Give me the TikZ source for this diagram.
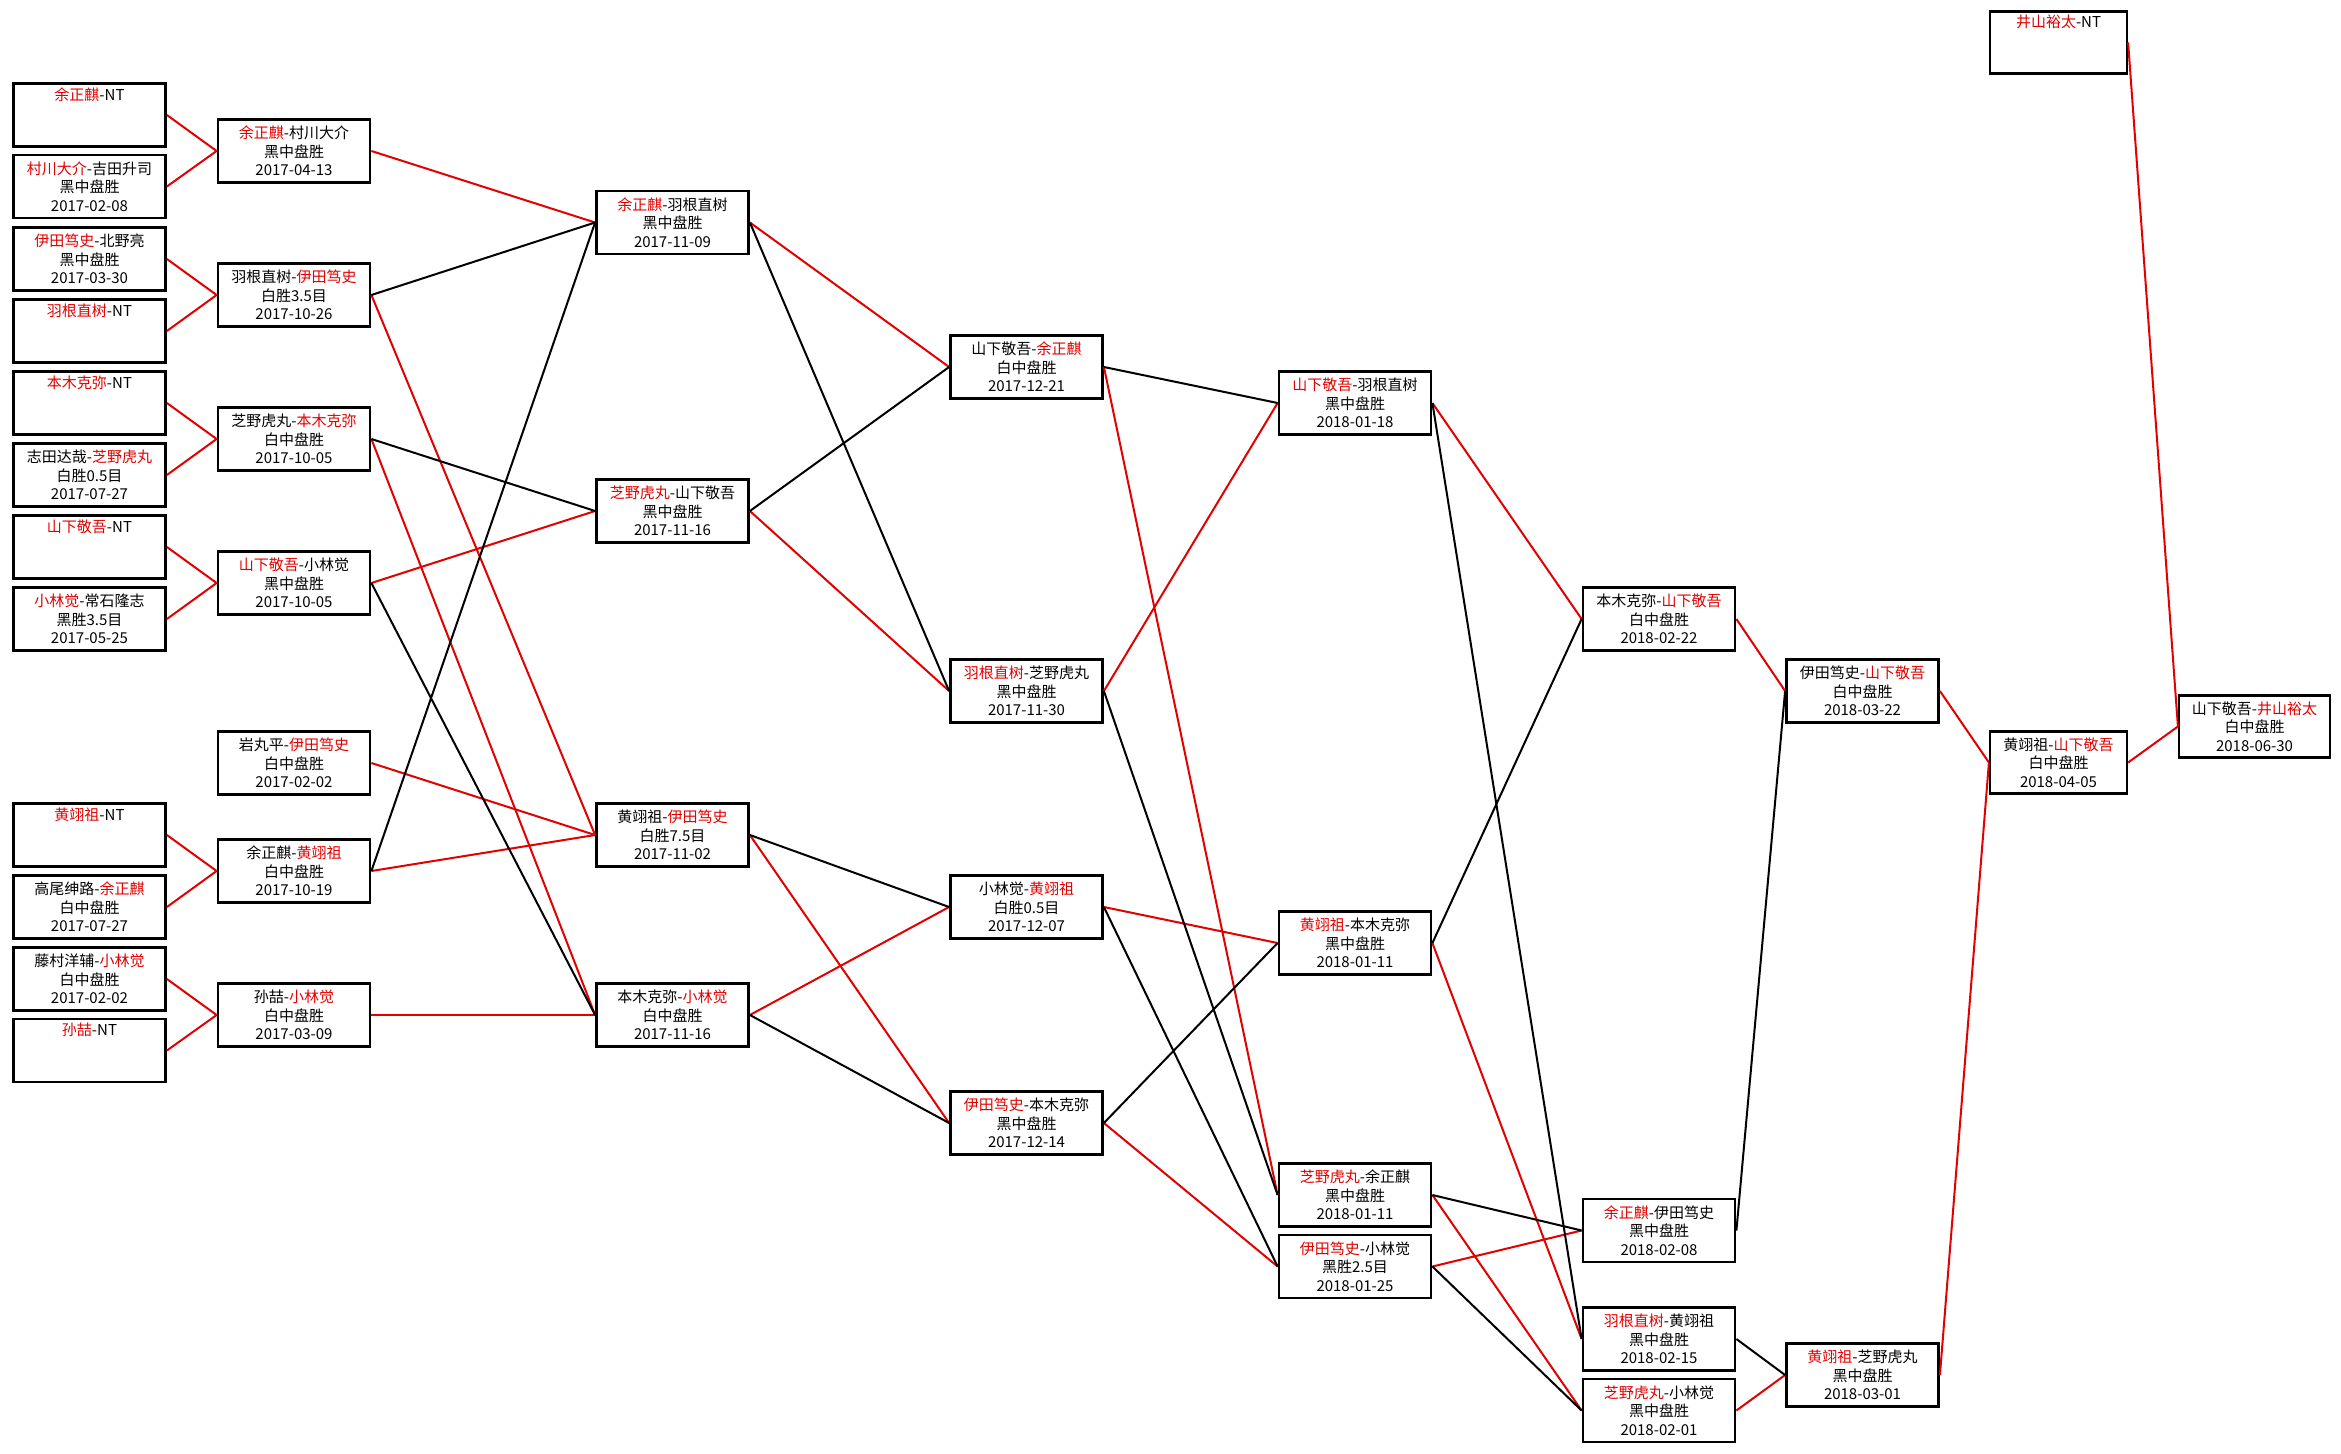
\documentclass[tikz,border=0pt]{standalone}
\usepackage{fontspec}
\setmainfont{Noto Sans CJK SC}
\definecolor{wred}{RGB}{226,0,0}
\newcommand{\rn}[1]{\textcolor{wred}{#1}}
\begin{document}
\begin{tikzpicture}[x=1pt,y=-1pt,
  gbox/.style={draw=black, line width=2.8pt, minimum width=152pt, minimum height=63pt,
    inner sep=0pt, align=center, font=\fontsize{15}{18.5}\selectfont},
  sbox/.style={gbox, line width=2.2pt, minimum width=137pt, minimum height=62pt},
  rl/.style={draw=wred, line width=2pt},
  kl/.style={draw=black, line width=2pt}]
\clip (0,0) rectangle (2341,1453);
\fill[white] (0,0) rectangle (2341,1453);
% column 1
\node[gbox] (c1a) at (89.5,115)  {\rn{余正麒}-NT\\\strut\\\strut};
\node[gbox] (c1b) at (89.5,186.5){\rn{村川大介}-吉田升司\\黑中盘胜\\2017-02-08};
\node[gbox] (c1c) at (89.5,259)  {\rn{伊田笃史}-北野亮\\黑中盘胜\\2017-03-30};
\node[gbox] (c1d) at (89.5,331)  {\rn{羽根直树}-NT\\\strut\\\strut};
\node[gbox] (c1e) at (89.5,403)  {\rn{本木克弥}-NT\\\strut\\\strut};
\node[gbox] (c1f) at (89.5,475)  {志田达哉-\rn{芝野虎丸}\\白胜0.5目\\2017-07-27};
\node[gbox] (c1g) at (89.5,547)  {\rn{山下敬吾}-NT\\\strut\\\strut};
\node[gbox] (c1h) at (89.5,619)  {\rn{小林觉}-常石隆志\\黑胜3.5目\\2017-05-25};
\node[gbox] (c1i) at (89.5,835)  {\rn{黄翊祖}-NT\\\strut\\\strut};
\node[gbox] (c1j) at (89.5,907)  {高尾绅路-\rn{余正麒}\\白中盘胜\\2017-07-27};
\node[gbox] (c1k) at (89.5,979)  {藤村洋辅-\rn{小林觉}\\白中盘胜\\2017-02-02};
\node[gbox] (c1l) at (89.5,1050.5){\rn{孙喆}-NT\\\strut\\\strut};
% column 2
\node[gbox] (c2a) at (294,151)  {\rn{余正麒}-村川大介\\黑中盘胜\\2017-04-13};
\node[gbox] (c2b) at (294,295)  {羽根直树-\rn{伊田笃史}\\白胜3.5目\\2017-10-26};
\node[gbox] (c2c) at (294,439)  {芝野虎丸-\rn{本木克弥}\\白中盘胜\\2017-10-05};
\node[gbox] (c2d) at (294,583)  {\rn{山下敬吾}-小林觉\\黑中盘胜\\2017-10-05};
\node[gbox] (c2e) at (294,763)  {岩丸平-\rn{伊田笃史}\\白中盘胜\\2017-02-02};
\node[gbox] (c2f) at (294,871)  {余正麒-\rn{黄翊祖}\\白中盘胜\\2017-10-19};
\node[gbox] (c2g) at (294,1015) {孙喆-\rn{小林觉}\\白中盘胜\\2017-03-09};
% column 3
\node[gbox] (c3a) at (672.5,222.5) {\rn{余正麒}-羽根直树\\黑中盘胜\\2017-11-09};
\node[gbox] (c3b) at (672.5,511)   {\rn{芝野虎丸}-山下敬吾\\黑中盘胜\\2017-11-16};
\node[gbox] (c3e) at (672.5,835)   {黄翊祖-\rn{伊田笃史}\\白胜7.5目\\2017-11-02};
\node[gbox] (c3f) at (672.5,1015)  {本木克弥-\rn{小林觉}\\白中盘胜\\2017-11-16};
% column 4
\node[gbox] (c4a) at (1026.5,367)  {山下敬吾-\rn{余正麒}\\白中盘胜\\2017-12-21};
\node[gbox] (c4b) at (1026.5,691)  {\rn{羽根直树}-芝野虎丸\\黑中盘胜\\2017-11-30};
\node[gbox] (c4c) at (1026.5,907)  {小林觉-\rn{黄翊祖}\\白胜0.5目\\2017-12-07};
\node[gbox] (c4d) at (1026.5,1123) {\rn{伊田笃史}-本木克弥\\黑中盘胜\\2017-12-14};
% column 5
\node[gbox] (c5a) at (1355,403)    {\rn{山下敬吾}-羽根直树\\黑中盘胜\\2018-01-18};
\node[gbox] (c5b) at (1355,943)    {\rn{黄翊祖}-本木克弥\\黑中盘胜\\2018-01-11};
\node[gbox] (c5c) at (1355,1195)   {\rn{芝野虎丸}-余正麒\\黑中盘胜\\2018-01-11};
\node[gbox] (c5d) at (1355,1266.5) {\rn{伊田笃史}-小林觉\\黑胜2.5目\\2018-01-25};
% column 6
\node[gbox] (c6a) at (1659,619)    {本木克弥-\rn{山下敬吾}\\白中盘胜\\2018-02-22};
\node[gbox] (c6b) at (1659,1230.5) {\rn{余正麒}-伊田笃史\\黑中盘胜\\2018-02-08};
\node[gbox] (c6c) at (1659,1339)   {\rn{羽根直树}-黄翊祖\\黑中盘胜\\2018-02-15};
\node[gbox] (c6d) at (1659,1410.5) {\rn{芝野虎丸}-小林觉\\黑中盘胜\\2018-02-01};
% column 7
\node[gbox] (c7a) at (1862.5,691)  {伊田笃史-\rn{山下敬吾}\\白中盘胜\\2018-03-22};
\node[gbox] (c7b) at (1862.5,1375) {\rn{黄翊祖}-芝野虎丸\\黑中盘胜\\2018-03-01};
% column 8 and 9
\node[sbox] (c8a) at (2058.5,762.5) {黄翊祖-\rn{山下敬吾}\\白中盘胜\\2018-04-05};
\node[sbox] (c8b) at (2058.5,42.5)  {\rn{井山裕太}-NT\\\strut\\\strut};
\node[sbox, minimum width=151pt] (c9) at (2254.5,726.5) {山下敬吾-\rn{井山裕太}\\白中盘胜\\2018-06-30};
% connectors col1 -> col2
\foreach \a/\b in {c1a/c2a,c1b/c2a,c1c/c2b,c1d/c2b,c1e/c2c,c1f/c2c,c1g/c2d,c1h/c2d,c1i/c2f,c1j/c2f,c1k/c2g,c1l/c2g}
  \draw[rl] (\a.east) -- (\b.west);
% col2 -> col3
\foreach \a/\b in {c2a/c3a,c2b/c3e,c2c/c3f,c2d/c3b,c2e/c3e,c2f/c3e,c2g/c3f}
  \draw[rl] (\a.east) -- (\b.west);
\foreach \a/\b in {c2b/c3a,c2c/c3b,c2d/c3f,c2f/c3a}
  \draw[kl] (\a.east) -- (\b.west);
% col3 -> col4
\foreach \a/\b in {c3a/c4a,c3b/c4b,c3e/c4d,c3f/c4c}
  \draw[rl] (\a.east) -- (\b.west);
\foreach \a/\b in {c3a/c4b,c3b/c4a,c3e/c4c,c3f/c4d}
  \draw[kl] (\a.east) -- (\b.west);
% col4 -> col5
\foreach \a/\b in {c4a/c5c,c4b/c5a,c4c/c5b,c4d/c5d}
  \draw[rl] (\a.east) -- (\b.west);
\foreach \a/\b in {c4a/c5a,c4b/c5c,c4c/c5d,c4d/c5b}
  \draw[kl] (\a.east) -- (\b.west);
% col5 -> col6
\foreach \a/\b in {c5a/c6a,c5b/c6c,c5c/c6d,c5d/c6b}
  \draw[rl] (\a.east) -- (\b.west);
\foreach \a/\b in {c5a/c6c,c5b/c6a,c5c/c6b,c5d/c6d}
  \draw[kl] (\a.east) -- (\b.west);
% col6 -> col7
\foreach \a/\b in {c6a/c7a,c6d/c7b}
  \draw[rl] (\a.east) -- (\b.west);
\foreach \a/\b in {c6b/c7a,c6c/c7b}
  \draw[kl] (\a.east) -- (\b.west);
% col7 -> col8 -> col9
\foreach \a/\b in {c7a/c8a,c7b/c8a,c8a/c9,c8b/c9}
  \draw[rl] (\a.east) -- (\b.west);
\end{tikzpicture}
\end{document}
